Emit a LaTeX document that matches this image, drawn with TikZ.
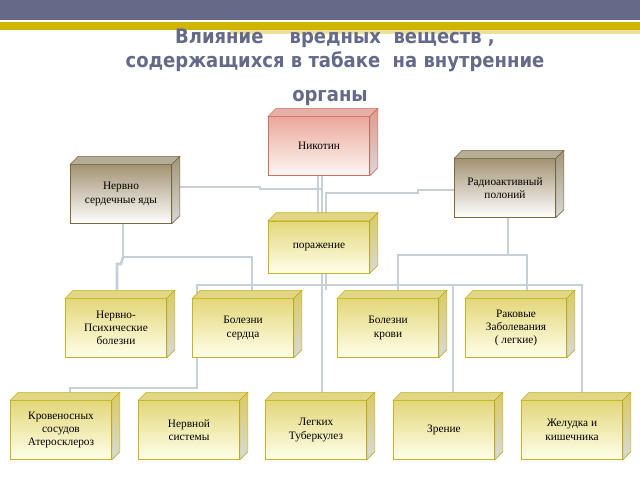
\documentclass[tikz,border=0pt]{standalone}
\usepackage{fontspec}
\setmainfont{Liberation Serif}
\newfontfamily\titlefont{DejaVu Sans Condensed}
\usetikzlibrary{positioning}
\definecolor{slate}{HTML}{646A88}
\definecolor{gold}{HTML}{D0B400}
\definecolor{wire}{HTML}{C5D0D8}
\definecolor{pinkedge}{HTML}{D07060}
\definecolor{pinktop}{HTML}{EBA89A}
\definecolor{brownedge}{HTML}{7A6A40}
\definecolor{browntop}{HTML}{A39373}
\definecolor{yeledge}{HTML}{C8B420}
\definecolor{yeltop}{HTML}{E3D77A}
\begin{document}
\begin{tikzpicture}[x=0.75pt,y=-0.75pt,
  box/.style={rectangle,draw=yeledge,top color=yeltop,bottom color=white!92!yellow,
    minimum width=76pt,minimum height=44pt,align=center,inner sep=1pt,
    font=\fontsize{8.5}{10}\selectfont},
  pinkbox/.style={box,draw=pinkedge,top color=pinktop,bottom color=white!90!pinktop},
  brownbox/.style={box,draw=brownedge,top color=browntop,bottom color=white},
  wire/.style={draw=wire,line width=2pt}]
\useasboundingbox (0,0) rectangle (640,480);
% header
\fill[slate] (0,0) rectangle (640,20);
\fill[gold] (0,22) rectangle (640,30);
\fill[gold!40] (230,30) rectangle (640,34);
\node[font=\titlefont\bfseries\fontsize{15}{18}\selectfont,text=slate,align=center] (title)
  at (335,50) {Влияние \quad вредных \ веществ ,\\содержащихся в табаке \ на внутренние};
\node[font=\titlefont\bfseries\fontsize{15}{18}\selectfont,text=slate] (title2) at (330,98) {органы};
% connectors
\draw[wire] (318,176) -- (318,221) (322,176) -- (322,400);
\draw[wire] (180,187) -- (260,187) -- (260,189) -- (322,189);
\draw[wire] (455,190) -- (418,190) -- (418,193) -- (326,193) -- (326,290);
\draw[wire] (123,224) -- (123,257) -- (252,257) -- (252,292);
\draw[wire] (123,257) -- (121,264) -- (117,264) -- (117,299);
\draw[wire] (508,218) -- (508,255);
\draw[wire] (398,292) -- (398,255) -- (527,255) -- (527,292);
\draw[wire] (322,273) -- (322,285);
\draw[wire] (197,299) -- (197,285) -- (582,285) -- (582,393);
\draw[wire] (453,285) -- (453,393);
\draw[wire] (197,285) -- (197,388) -- (70,388) -- (70,393);
% boxes
\node[pinkbox] (nic) at (319,146) {Никотин};
\node[brownbox] (poison) at (121,194) {Нервно\\сердечные яды};
\node[brownbox] (polon) at (505,188) {Радиоактивный\\полоний};
\node[box,minimum height=39pt] (dmg) at (319,247) {поражение};
\node[box] (psy) at (116,328) {Нервно-\\Психические\\болезни};
\node[box] (heart) at (243,328) {Болезни\\сердца};
\node[box] (blood) at (388,328) {Болезни\\крови};
\node[box] (cancer) at (516,328) {Раковые\\Заболевания\\( легкие)};
\node[box] (vessel) at (61,430) {Кровеносных\\сосудов\\Атеросклероз};
\node[box] (nerve) at (189,430) {Нервной\\системы};
\node[box] (lungs) at (316,430) {Легких\\Туберкулез};
\node[box] (eye) at (444,430) {Зрение};
\node[box] (gut) at (572,430) {Желудка и\\кишечника};
% depth faces
\foreach \n/\c in {nic/pinkedge,poison/brownedge,polon/brownedge,dmg/yeledge,psy/yeledge,
  heart/yeledge,blood/yeledge,cancer/yeledge,vessel/yeledge,nerve/yeledge,lungs/yeledge,
  eye/yeledge,gut/yeledge}{
  \filldraw[draw=\c,fill=\c!55] (\n.north west) -- ++(8,-8) -- ([shift={(8,-8)}]\n.north east)
    -- (\n.north east) -- cycle;
  \filldraw[draw=\c,top color=\c!70,bottom color=gray!30] (\n.north east) -- ++(8,-8)
    -- ([shift={(8,-8)}]\n.south east) -- (\n.south east) -- cycle;
}
\end{tikzpicture}
\end{document}
